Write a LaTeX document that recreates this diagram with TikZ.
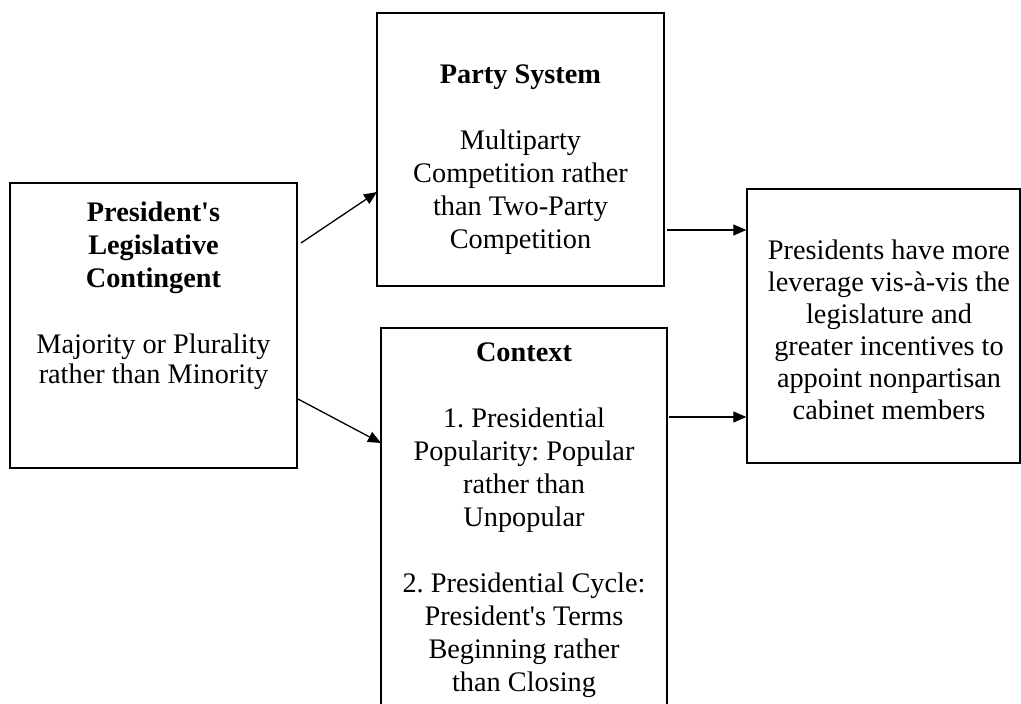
\documentclass[tikz,border=0pt]{standalone}
\usepackage{fontspec}
\setmainfont{Liberation Serif}
\usetikzlibrary{arrows.meta}
\newcommand{\aps}{\textquotesingle}
\frenchspacing
\begin{document}
\begin{tikzpicture}[x=1pt,y=-1pt,
  box/.style={draw=black,line width=1.4pt,rectangle,inner sep=0pt},
  txt/.style={anchor=north,align=center,inner sep=0pt,font=\fontsize{28.3}{33}\selectfont\frenchspacing},
  arr/.style={line width=1.3pt,-{Triangle[length=13pt,width=11pt]}}]
\useasboundingbox (0,0) rectangle (1021,704);
\clip (0,0) rectangle (1021,704);
\fill[white] (0,0) rectangle (1021,704);
% boxes
\node[box,minimum width=287pt,minimum height=285pt] (pres) at (153.5,325.5) {};
\node[box,minimum width=287pt,minimum height=273pt] (party) at (520.5,149.5) {};
\node[box,minimum width=286pt,minimum height=400pt] (ctx) at (524,528) {};
\node[box,minimum width=273pt,minimum height=274pt] (out) at (883.5,326) {};
% texts
\node[txt] (presT) at (153.5,201.5) {\textbf{President\aps s}\\\textbf{Legislative}\\\textbf{Contingent}\\[33pt]Majority or Plurality\\[-3pt]rather than Minority};
\node[txt] (partyT) at (520.5,65) {\textbf{Party System}\\[33pt]Multiparty\\Competition rather\\than Two-Party\\Competition};
\node[txt] (ctxT) at (524,343) {\textbf{Context}\\[33pt]1. Presidential\\Popularity: Popular\\rather than\\Unpopular\\[33pt]2. Presidential Cycle:\\President\aps s Terms\\Beginning rather\\than Closing};
\node[txt,font=\fontsize{28.3}{32}\selectfont] (outT) at (889,240) {Presidents have more\\leverage vis-à-vis the\\legislature and\\greater incentives to\\appoint nonpartisan\\cabinet members};
% connector anchors
\coordinate (s1) at (301,243);
\coordinate (e1) at (377,192);
\coordinate (s2) at (298,399);
\coordinate (e2) at (381,443);
\coordinate (s3) at (667,230);
\coordinate (s4) at (669,417);
% connectors
\draw[arr] (s1) -- (e1);
\draw[arr] (s2) -- (e2);
\draw[arr] (s3) -- (out.west |- s3);
\draw[arr] (s4) -- (out.west |- s4);
\end{tikzpicture}
\end{document}
